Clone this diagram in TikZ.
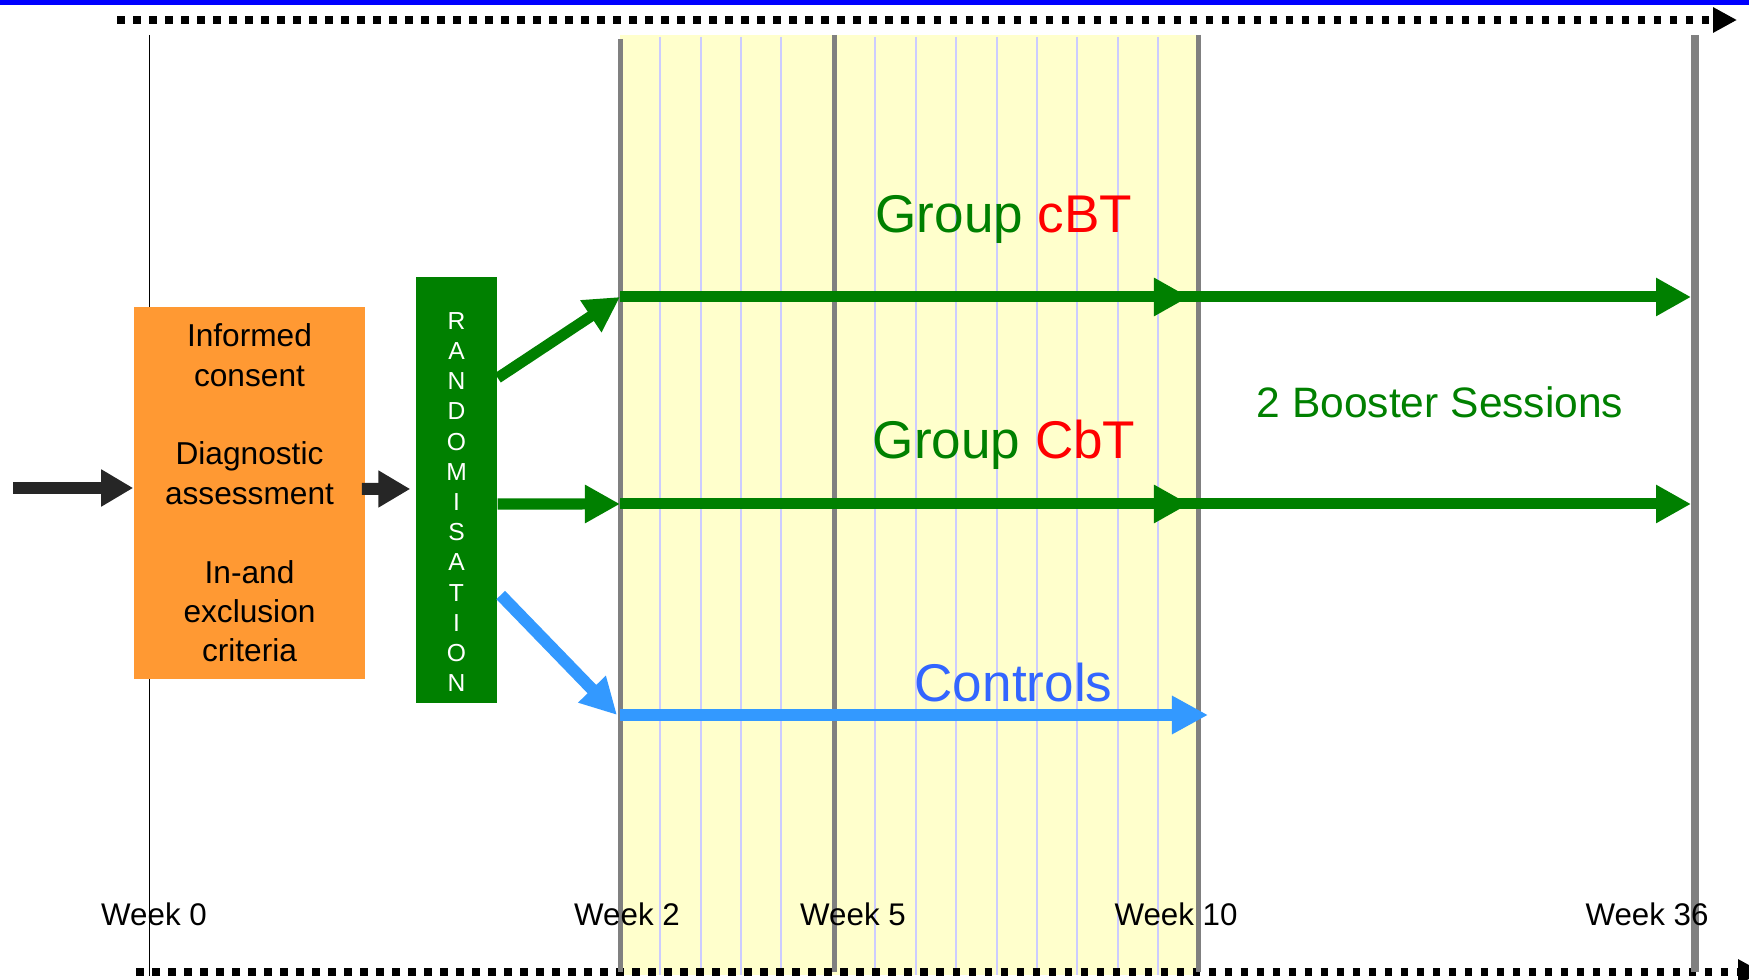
\documentclass[tikz,border=0pt]{standalone}
\usepackage{fontspec}
\setmainfont{Liberation Sans}
\usetikzlibrary{arrows.meta}
\definecolor{dgreen}{RGB}{0,128,0}
\definecolor{orng}{RGB}{255,153,51}
\definecolor{lblue}{RGB}{51,153,255}
\definecolor{tblue}{RGB}{51,102,255}
\definecolor{bandcol}{RGB}{255,255,204}
\definecolor{lav}{RGB}{204,204,255}
\definecolor{dgray}{RGB}{38,38,38}
\definecolor{gline}{RGB}{128,128,128}
\definecolor{tred}{RGB}{255,0,0}
\begin{document}
\begin{tikzpicture}[x=0.01cm,y=-0.01cm,
  weekline/.style={draw=gline,line width=0.05cm},
  lavline/.style={draw=lav,line width=0.018cm},
  grparrow/.style={line width=0.11cm, draw=dgreen, -{Triangle[length=0.35cm,width=0.36cm]}},
  ctlarrow/.style={line width=0.12cm, draw=lblue, -{Triangle[length=0.36cm,width=0.36cm]}},
  darrow/.style={line width=0.12cm, draw=dgray, -{Triangle[length=0.32cm,width=0.35cm]}},
  timeline/.style={line width=0.08cm, draw=black, dash pattern=on 0.075cm off 0.085cm, -{Triangle[length=0.24cm,width=0.24cm]}},
  weektxt/.style={inner sep=0, anchor=base, font=\fontsize{8.9}{10}\selectfont},
  grptxt/.style={inner sep=0, anchor=base, font=\fontsize{15.1}{18}\selectfont, text=dgreen}
]
\useasboundingbox (0,0) rectangle (1749,980);
% top blue rule
\fill[blue] (0,0) rectangle (1749,5);
% yellow band
\fill[bandcol] (620,35) rectangle (1198,975);
\foreach \x in {660,701,741,781,875,916,956,997,1037,1077,1118,1158}
  \draw[lavline] (\x,37) -- (\x,975);
% timelines
\coordinate (tl1) at (117,20);
\coordinate (tr1) at (1737,20);
\coordinate (bl1) at (136,972);
\coordinate (br1) at (1762,972);
\draw[timeline] (tl1) -- (tr1);
\draw[timeline] (bl1) -- (br1);
% week lines
\draw[black, line width=0.015cm] (149.5,35) -- (149.5,976);
\draw[weekline] (620,39) -- (620,972);
\draw[weekline] (834,35) -- (834,972);
\draw[weekline] (1198,35) -- (1198,972);
\draw[weekline, line width=0.08cm] (1695,35) -- (1695,972);
% week labels
\node[weektxt] (w0) at (154,925) {Week 0};
\node[weektxt] (w2) at (627,925) {Week 2};
\node[weektxt] (w5) at (853,925) {Week 5};
\node[weektxt] (w10) at (1176,925) {Week 10};
\node[weektxt] (w36) at (1647,925) {Week 36};
% boxes
\node[fill=orng, minimum width=2.31cm, minimum height=3.72cm, inner sep=0, align=center,
  font=\fontsize{9}{11.2}\selectfont] (screen) at (249.5,493)
  {Informed\\consent\\[0.395cm]Diagnostic\\assessment\\[0.395cm]In-and\\exclusion\\criteria};
\node[fill=dgreen, minimum width=0.81cm, minimum height=4.26cm, inner sep=0] (rand) at (456.5,490) {};
\node[text=white, inner sep=0, align=center, font=\fontsize{7}{8.59}\selectfont] (randtxt) at (456.5,502)
  {R\\A\\N\\D\\O\\M\\I\\S\\A\\T\\I\\O\\N};
% input arrows
\coordinate (in) at (13,488);
\draw[darrow] (in) -- (in -| screen.west);
\draw[darrow] ([xshift=-0.04cm, yshift=0.04cm]screen.east) -- ([xshift=-0.05cm, yshift=0.01cm]rand.west);
% group coordinates
\coordinate (a2) at (620,297);
\coordinate (a10) at (1189,297);
\coordinate (a36) at (1691,297);
\coordinate (b2) at (620,504);
\coordinate (b10) at (1189,504);
\coordinate (b36) at (1691,504);
\coordinate (c2d) at (617,715);
\coordinate (c2) at (620,715);
\coordinate (c10) at (1208,715);
% group arrows
\draw[grparrow] ([yshift=1.12cm]rand.east) -- (a2);
\draw[grparrow] (a2) -- (a36);
\draw[grparrow] (a2) -- (a10);
\draw[grparrow] ([yshift=-0.14cm]rand.east) -- (b2);
\draw[grparrow] (b2) -- (b36);
\draw[grparrow] (b2) -- (b10);
\draw[ctlarrow] ([xshift=0.03cm, yshift=-1.05cm]rand.east) -- (c2d);
\draw[ctlarrow] (c2) -- (c10);
% labels
\node[grptxt] (lcbt) at (1004,233) {Group \textcolor{tred}{cBT}};
\node[grptxt] (lCbt) at (1004,459) {Group \textcolor{tred}{CbT}};
\node[grptxt, text=tblue] (lctl) at (1013.5,702) {Controls};
\node[inner sep=0, anchor=base, font=\fontsize{12.1}{14}\selectfont, text=dgreen] (lboost) at (1440,418) {2 Booster Sessions};
\end{tikzpicture}
\end{document}
